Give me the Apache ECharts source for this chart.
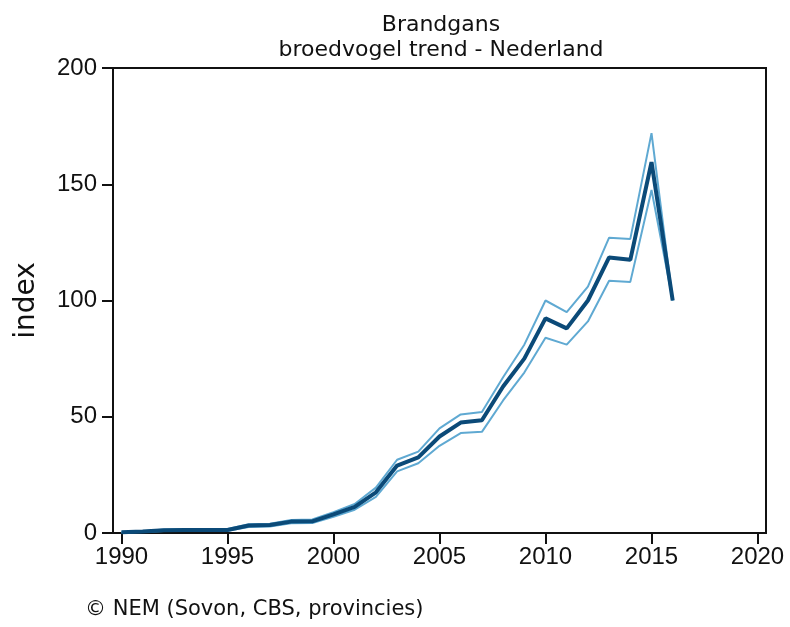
<!DOCTYPE html>
<html>
<head>
<meta charset="utf-8">
<script src="https://cdn.jsdelivr.net/npm/echarts@6/dist/echarts.min.js"></script>
<style>
  html, body { margin: 0; padding: 0; background: #fff; }
  #chart { width: 790px; height: 627px; }
</style>
</head>
<body>
<div id="chart"></div>
<script>
// jaren en indexwaarden (1990 = basis)
var years = [1990, 1991, 1992, 1993, 1994, 1995, 1996, 1997, 1998, 1999,
             2000, 2001, 2002, 2003, 2004, 2005, 2006, 2007, 2008, 2009,
             2010, 2011, 2012, 2013, 2014, 2015, 2016];
var trend = [0.3, 0.6, 1.2, 1.3, 1.3, 1.3, 3.2, 3.4, 4.9, 5.0,
             8.0, 11.2, 17.5, 29, 32.5, 41.5, 47.5, 48.5, 63, 75,
             92.3, 88, 100, 118.5, 117.5, 159.5, 100];
var upper = [0.4, 0.8, 1.5, 1.6, 1.6, 1.7, 3.8, 4.0, 5.6, 5.8,
             9.0, 12.5, 19.5, 31.5, 35, 45, 51, 52, 67, 81,
             100, 95, 106, 127, 126.5, 172, 100];
var lower = [0.2, 0.4, 0.9, 1.0, 1.0, 1.0, 2.6, 2.8, 4.2, 4.3,
             7.0, 10, 15.5, 26.5, 30, 37.5, 43, 43.5, 57, 69,
             84, 81, 91, 108.5, 108, 147.5, 100];
var xTicks = [1990, 1995, 2000, 2005, 2010, 2015, 2020];

function pairs(vals) {
    return years.map(function (y, i) { return [y, vals[i]]; });
}

var chart = echarts.init(document.getElementById('chart'));
var font = '"DejaVu Sans", Verdana, sans-serif';
var numFont = '"Liberation Sans", Arial, sans-serif';

var option = {
    backgroundColor: '#fff',
    animation: false,
    title: {
        text: 'Brandgans\nbroedvogel trend - Nederland',
        left: 436,
        textAlign: 'center',
        top: 8,
        textStyle: {
            fontFamily: font,
            fontWeight: 'normal',
            fontSize: 22,
            color: '#111',
            lineHeight: 25
        }
    },
    graphic: [{
        type: 'text',
        left: 85,
        top: 599,
        style: {
            text: '\u00a9 NEM (Sovon, CBS, provincies)',
            font: '21px ' + font,
            fill: '#111'
        }
    }],
    grid: {
        left: 113,
        right: 24,
        top: 68,
        bottom: 94,
        show: true,
        borderColor: '#111',
        borderWidth: 2
    },
    xAxis: {
        type: 'value',
        min: 1989.6,
        max: 2020.4,
        splitLine: { show: false },
        axisLine: { lineStyle: { color: '#111', width: 2 } },
        axisTick: {
            customValues: xTicks,
            length: 11,
            lineStyle: { color: '#111', width: 2 }
        },
        axisLabel: {
            customValues: xTicks,
            formatter: function (v) { return String(v); },
            margin: 12,
            fontFamily: numFont,
            fontSize: 24,
            color: '#111'
        }
    },
    yAxis: {
        type: 'value',
        min: 0,
        max: 200,
        interval: 50,
        name: 'index',
        nameLocation: 'middle',
        nameGap: 72,
        nameTextStyle: { fontFamily: font, fontSize: 28, color: '#111' },
        splitLine: { show: false },
        axisLine: { lineStyle: { color: '#111', width: 2 } },
        axisTick: { length: 11, lineStyle: { color: '#111', width: 2 } },
        axisLabel: {
            margin: 16,
            fontFamily: numFont,
            fontSize: 24,
            color: '#111'
        }
    },
    series: [
        {
            name: 'boven',
            type: 'line',
            data: pairs(upper),
            symbol: 'none',
            lineStyle: { color: '#5fa9d2', width: 2 }
        },
        {
            name: 'onder',
            type: 'line',
            data: pairs(lower),
            symbol: 'none',
            lineStyle: { color: '#5fa9d2', width: 2 }
        },
        {
            name: 'index',
            type: 'line',
            data: pairs(trend),
            symbol: 'none',
            lineStyle: { color: '#0b4a78', width: 4 }
        }
    ]
};

chart.setOption(option);
</script>
</body>
</html>
